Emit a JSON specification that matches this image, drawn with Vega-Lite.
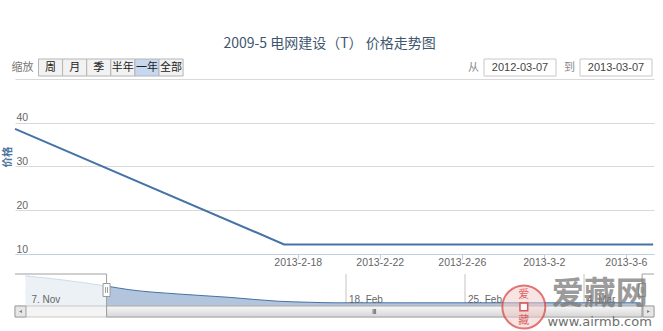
{
  "$schema": "https://vega.github.io/schema/vega-lite/v6.json",
  "background": "#ffffff",
  "padding": {"left": 2, "top": 36, "right": 8, "bottom": 0},
  "title": {"text": "2009-5 电网建设（T） 价格走势图", "font": "Noto Sans CJK SC", "fontSize": 14, "fontWeight": "normal", "color": "#3e576f", "anchor": "middle", "offset": 8},
  "config": {"view": {"stroke": null}, "font": "Liberation Sans"},
  "bounds": "flush",
  "spacing": 20,
  "datasets": {
    "price": [
      {"date": "2013-02-04T05:00", "price": 38.6},
      {"date": "2013-02-17T08:00", "price": 12.2},
      {"date": "2013-02-18T08:00", "price": 12.2},
      {"date": "2013-02-19T08:00", "price": 12.2},
      {"date": "2013-02-20T08:00", "price": 12.2},
      {"date": "2013-02-21T08:00", "price": 12.2},
      {"date": "2013-02-22T08:00", "price": 12.2},
      {"date": "2013-02-23T08:00", "price": 12.2},
      {"date": "2013-02-24T08:00", "price": 12.2},
      {"date": "2013-02-25T08:00", "price": 12.2},
      {"date": "2013-02-26T08:00", "price": 12.2},
      {"date": "2013-02-27T08:00", "price": 12.2},
      {"date": "2013-02-28T08:00", "price": 12.2},
      {"date": "2013-03-01T08:00", "price": 12.2},
      {"date": "2013-03-02T08:00", "price": 12.2},
      {"date": "2013-03-03T08:00", "price": 12.2},
      {"date": "2013-03-04T08:00", "price": 12.2},
      {"date": "2013-03-05T08:00", "price": 12.2},
      {"date": "2013-03-06T08:00", "price": 12.2},
      {"date": "2013-03-07T08:00", "price": 12.2}
    ],
    "overview": [
      {"date": "2013-01-30T04:00", "value": 47.4},
      {"date": "2013-02-01T03:00", "value": 42.8},
      {"date": "2013-02-03T21:00", "value": 34.3},
      {"date": "2013-02-05T06:00", "value": 29.4},
      {"date": "2013-02-08T04:00", "value": 23.7},
      {"date": "2013-02-11T03:00", "value": 19.4},
      {"date": "2013-02-14T01:00", "value": 14.2},
      {"date": "2013-02-15T20:00", "value": 12.9},
      {"date": "2013-02-17T08:00", "value": 12.2},
      {"date": "2013-02-21T08:00", "value": 12.2},
      {"date": "2013-02-25T08:00", "value": 12.2},
      {"date": "2013-03-01T08:00", "value": 12.2},
      {"date": "2013-03-05T08:00", "value": 12.2},
      {"date": "2013-03-07T08:00", "value": 12.2}
    ],
    "navTicks": [
      {"tick": "2013-01-30T07:40", "label": "7. Nov"},
      {"tick": "2013-02-18T00:00", "label": "18. Feb"},
      {"tick": "2013-02-25T00:00", "label": "25. Feb"},
      {"tick": "2013-03-04T00:00", "label": "4. Mar"}
    ],
    "buttons": [
      {"label": "缩放", "state": "label"},
      {"label": "周", "state": "button"},
      {"label": "月", "state": "button"},
      {"label": "季", "state": "button"},
      {"label": "半年", "state": "button"},
      {"label": "一年", "state": "selected"},
      {"label": "全部", "state": "button"}
    ],
    "range": [
      {"prefix": "从", "date": "2012-03-07"},
      {"prefix": "到", "date": "2013-03-07"}
    ],
    "mask": [
      {"from": "2013-01-30T04:00", "to": "2013-02-03T22:00"},
      {"from": "2013-03-07T10:00", "to": "2013-03-07T11:15"}
    ],
    "outline": [
      {"from": "2013-01-29T12:45", "to": "2013-02-03T22:00"},
      {"from": "2013-03-07T10:00", "to": "2013-03-08T02:45"}
    ],
    "scrollButtons": [
      {"side": "left", "from": "2013-01-29T12:45", "to": "2013-01-30T04:15"},
      {"side": "right", "from": "2013-03-07T11:15", "to": "2013-03-08T02:45"}
    ],
    "selection": [
      {"from": "2013-02-03T22:00", "to": "2013-03-07T10:00"}
    ],
    "handles": [
      {"at": "2013-02-03T22:00"},
      {"at": "2013-03-07T10:00"}
    ],
    "watermark": [
      {"brand": "爱藏网", "site": "www.airmb.com", "seal": "爱藏"}
    ]
  },
  "vconcat": [
    {
      "width": 639,
      "height": 195,
      "resolve": {"scale": {"x": "independent", "y": "independent"}},
      "layer": [
        {
          "data": {"name": "price"},
          "mark": {"type": "line", "color": "#4572A7", "strokeWidth": 2},
          "encoding": {
            "x": {
              "field": "date", "type": "temporal",
              "scale": {"domain": [{"year": 2013, "month": 2, "date": 4, "hours": 5}, {"year": 2013, "month": 3, "date": 7, "hours": 9}]},
              "axis": {
                "values": [
                  {"year": 2013, "month": 2, "date": 18},
                  {"year": 2013, "month": 2, "date": 22},
                  {"year": 2013, "month": 2, "date": 26},
                  {"year": 2013, "month": 3, "date": 2},
                  {"year": 2013, "month": 3, "date": 6}
                ],
                "format": "%Y-%-m-%-d",
                "title": null, "grid": false,
                "domainColor": "#c0d0e0", "tickColor": "#c0d0e0", "tickSize": 5,
                "labelPadding": -2, "labelColor": "#666666", "labelFontSize": 10.5, "labelFont": "Liberation Sans",
                "labelFlush": false, "labelOverlap": false
              }
            },
            "y": {
              "field": "price", "type": "quantitative",
              "scale": {"domain": [10, 54.571], "nice": false, "zero": false},
              "axis": {
                "values": [10, 20, 30, 40, 50],
                "labelExpr": "datum.value == 50 ? '' : datum.label",
                "grid": true, "gridColor": "#d9d9d9", "domain": false, "ticks": false, "tickSize": 0,
                "labelAlign": "left", "labelBaseline": "alphabetic", "labelPadding": -1, "labelOffset": -2,
                "labelColor": "#666666", "labelFontSize": 10.5, "labelFont": "Liberation Sans",
                "title": "价格", "titleFont": "Noto Sans CJK SC", "titleFontSize": 10.5, "titleFontWeight": "bold",
                "titleColor": "#4d759e", "titlePadding": 3
              }
            }
          }
        },
        {
          "data": {"name": "buttons"},
          "encoding": {
            "x": {"field": "label", "type": "nominal", "sort": null,
                  "scale": {"domain": ["缩放", "周", "月", "季", "半年", "一年", "全部"], "range": [-0.6, 168.1], "paddingInner": 0, "paddingOuter": 0},
                  "axis": null},
            "y": {"datum": "toolbar", "type": "nominal", "scale": {"range": [0, 17], "paddingInner": 0, "paddingOuter": 0}, "axis": null}
          },
          "layer": [
            {
              "transform": [{"filter": "datum.state != 'label'"}],
              "mark": {"type": "rect", "stroke": "#b5b5b5", "strokeWidth": 1},
              "encoding": {"fill": {"condition": {"test": "datum.state == 'selected'", "value": "#c6d8ef"}, "value": "#f2f2f2"}}
            },
            {
              "transform": [{"filter": "datum.state != 'label'"}],
              "mark": {"type": "text", "font": "Noto Sans CJK SC", "fontSize": 11, "color": "#222222", "baseline": "middle"},
              "encoding": {"text": {"field": "label"}}
            },
            {
              "transform": [{"filter": "datum.state == 'label'"}],
              "mark": {"type": "text", "font": "Noto Sans CJK SC", "fontSize": 11, "color": "#777777", "baseline": "middle", "dx": -4},
              "encoding": {"text": {"field": "label"}}
            }
          ]
        },
        {
          "data": {"name": "range"},
          "encoding": {
            "x": {"field": "date", "type": "nominal", "sort": null,
                  "scale": {"range": [469, 637], "paddingInner": 0.25, "paddingOuter": 0},
                  "axis": null},
            "y": {"datum": "toolbar", "type": "nominal", "scale": {"range": [0, 17], "paddingInner": 0, "paddingOuter": 0}, "axis": null}
          },
          "layer": [
            {"mark": {"type": "rect", "fill": "#ffffff", "stroke": "#c8c8c8", "strokeWidth": 1}},
            {"mark": {"type": "text", "font": "Liberation Sans", "fontSize": 11, "color": "#444444", "baseline": "middle"},
             "encoding": {"text": {"field": "date"}}},
            {"mark": {"type": "text", "font": "Noto Sans CJK SC", "fontSize": 11, "color": "#888888", "baseline": "middle", "align": "right", "dx": -5},
             "encoding": {"text": {"field": "prefix"}, "x": {"field": "date", "type": "nominal", "bandPosition": 0}}}
          ]
        }
      ]
    },
    {
      "width": 639,
      "height": 43,
      "encoding": {
        "x": {"type": "temporal", "axis": null,
              "scale": {"domain": [{"year": 2013, "month": 1, "date": 29, "hours": 12, "minutes": 45}, {"year": 2013, "month": 3, "date": 8, "hours": 2, "minutes": 45}]}}
      },
      "layer": [
        {
          "data": {"name": "navTicks"},
          "mark": {"type": "rule", "color": "#c4c4c4", "strokeWidth": 1},
          "encoding": {
            "x": {"field": "tick", "type": "temporal", "axis": null},
            "y": {"datum": 50, "type": "quantitative", "scale": {"domain": [8, 50], "range": [32, 0], "nice": false, "zero": false}, "axis": null},
            "y2": {"datum": 8}
          }
        },
        {
          "data": {"name": "overview"},
          "mark": {"type": "area", "interpolate": "monotone", "fill": "#b2c5dc", "opacity": 1, "line": {"color": "#4572A7", "strokeWidth": 1}},
          "encoding": {
            "x": {"field": "date", "type": "temporal", "axis": null},
            "y": {"field": "value", "type": "quantitative", "axis": null},
            "y2": {"datum": 8}
          }
        },
        {
          "data": {"name": "mask"},
          "mark": {"type": "rect", "fill": "#ffffff", "opacity": 0.75},
          "encoding": {
            "x": {"field": "from", "type": "temporal", "axis": null},
            "x2": {"field": "to"},
            "y": {"datum": 50, "type": "quantitative", "axis": null},
            "y2": {"datum": 8}
          }
        },
        {
          "data": {"name": "navTicks"},
          "mark": {"type": "text", "font": "Liberation Sans", "fontSize": 10, "color": "#666666", "align": "left", "baseline": "alphabetic", "dx": 3},
          "encoding": {
            "x": {"field": "tick", "type": "temporal", "axis": null},
            "y": {"datum": 12.33, "type": "quantitative", "axis": null},
            "text": {"field": "label"}
          }
        },
        {
          "data": {"name": "outline"},
          "mark": {"type": "rule", "color": "#a0a0a0", "strokeWidth": 1},
          "encoding": {
            "x": {"field": "from", "type": "temporal", "axis": null},
            "x2": {"field": "to"},
            "y": {"datum": 50, "type": "quantitative", "axis": null}
          }
        },
        {
          "data": {"name": "selection"},
          "mark": {"type": "rect", "fill": "#f4f4f4", "stroke": "#c8c8c8", "strokeWidth": 1},
          "encoding": {
            "y": {"datum": 8, "type": "quantitative", "axis": null},
            "y2": {"datum": -6.4375}
          }
        },
        {
          "data": {"name": "scrollButtons"},
          "mark": {"type": "rect", "fill": "#e6e6e6", "stroke": "#a0a0a0", "strokeWidth": 1},
          "encoding": {
            "x": {"field": "from", "type": "temporal", "axis": null},
            "x2": {"field": "to"},
            "y": {"datum": 8, "type": "quantitative", "axis": null},
            "y2": {"datum": -6.4375}
          }
        },
        {
          "data": {"name": "scrollButtons"},
          "transform": [{"calculate": "(time(toDate(datum.from)) + time(toDate(datum.to))) / 2", "as": "mid"}],
          "mark": {"type": "point", "filled": true, "color": "#444444", "size": 10},
          "encoding": {
            "x": {"field": "mid", "type": "temporal", "axis": null},
            "y": {"datum": 0.78, "type": "quantitative", "axis": null},
            "shape": {"field": "side", "type": "nominal", "scale": {"domain": ["left", "right"], "range": ["triangle-left", "triangle-right"]}, "legend": null}
          }
        },
        {
          "data": {"name": "selection"},
          "mark": {
            "type": "rect", "stroke": "#a8a8a8", "strokeWidth": 1,
            "fill": {"gradient": "linear", "x1": 0, "y1": 0, "x2": 0, "y2": 1, "stops": [{"offset": 0, "color": "#f8f8f8"}, {"offset": 1, "color": "#d6d6d6"}]}
          },
          "encoding": {
            "x": {"field": "from", "type": "temporal", "axis": null},
            "x2": {"field": "to"},
            "y": {"datum": 8, "type": "quantitative", "axis": null},
            "y2": {"datum": -6.4375}
          }
        },
        {
          "data": {"name": "selection"},
          "transform": [{"calculate": "(time(toDate(datum.from)) + time(toDate(datum.to))) / 2", "as": "mid"}],
          "mark": {"type": "point", "shape": "M-0.5,-1V1M0,-1V1M0.5,-1V1", "size": 25, "stroke": "#777777", "strokeWidth": 1, "filled": false, "opacity": 1},
          "encoding": {
            "x": {"field": "mid", "type": "temporal", "axis": null},
            "y": {"datum": 0.78, "type": "quantitative", "axis": null}
          }
        },
        {
          "data": {"name": "handles"},
          "mark": {"type": "rule", "color": "#a0a0a0", "strokeWidth": 1},
          "encoding": {
            "x": {"field": "at", "type": "temporal", "axis": null}
          }
        },
        {
          "data": {"name": "handles"},
          "mark": {"type": "point", "shape": "M-0.54,-1H0.54V1H-0.54ZM-0.15,-0.45V0.45M0.15,-0.45V0.45", "size": 169, "fill": "#ffffff", "stroke": "#999999", "strokeWidth": 1, "filled": true, "opacity": 1},
          "encoding": {
            "x": {"field": "at", "type": "temporal", "axis": null},
            "y": {"datum": 29, "type": "quantitative", "axis": null}
          }
        },
        {
          "data": {"name": "watermark"},
          "mark": {"type": "point", "shape": "circle", "size": 1850, "fill": "#f3c9c9", "fillOpacity": 0.5, "stroke": "#d84a4a", "strokeWidth": 2, "strokeOpacity": 0.75, "filled": true},
          "encoding": {
            "x": {"datum": {"year": 2013, "month": 2, "date": 28, "hours": 11}, "type": "temporal", "axis": null},
            "y": {"datum": 6.7, "type": "quantitative", "axis": null}
          }
        },
        {
          "data": {"name": "watermark"},
          "mark": {"type": "point", "shape": "square", "size": 60, "fill": "#ffffff", "stroke": "#d84a4a", "strokeWidth": 1.5, "filled": true, "opacity": 0.9},
          "encoding": {
            "x": {"datum": {"year": 2013, "month": 2, "date": 28, "hours": 11}, "type": "temporal", "axis": null},
            "y": {"datum": 6.7, "type": "quantitative", "axis": null}
          }
        },
        {
          "data": {"name": "watermark"},
          "mark": {"type": "text", "font": "Noto Sans CJK SC", "fontSize": 11, "color": "#d84a4a", "opacity": 0.85, "baseline": "middle"},
          "encoding": {
            "x": {"datum": {"year": 2013, "month": 2, "date": 28, "hours": 11}, "type": "temporal", "axis": null},
            "y": {"datum": 22.4, "type": "quantitative", "axis": null},
            "text": {"value": "爱"}
          }
        },
        {
          "data": {"name": "watermark"},
          "mark": {"type": "text", "font": "Noto Sans CJK SC", "fontSize": 11, "color": "#d84a4a", "opacity": 0.85, "baseline": "middle"},
          "encoding": {
            "x": {"datum": {"year": 2013, "month": 2, "date": 28, "hours": 11}, "type": "temporal", "axis": null},
            "y": {"datum": -11.5, "type": "quantitative", "axis": null},
            "text": {"value": "藏"}
          }
        },
        {
          "data": {"name": "watermark"},
          "mark": {"type": "text", "font": "Noto Sans CJK SC", "fontSize": 32, "fontWeight": "bold", "color": "#7a7a7a", "opacity": 0.75, "baseline": "middle"},
          "encoding": {
            "x": {"datum": {"year": 2013, "month": 3, "date": 4, "hours": 22}, "type": "temporal", "axis": null},
            "y": {"datum": 23.5, "type": "quantitative", "axis": null},
            "text": {"field": "brand"}
          }
        },
        {
          "data": {"name": "watermark"},
          "mark": {"type": "text", "font": "DejaVu Sans", "fontSize": 13, "color": "#555555", "opacity": 0.85, "baseline": "middle"},
          "encoding": {
            "x": {"datum": {"year": 2013, "month": 3, "date": 4, "hours": 22}, "type": "temporal", "axis": null},
            "y": {"datum": -13, "type": "quantitative", "axis": null},
            "text": {"field": "site"}
          }
        }
      ]
    }
  ]
}
